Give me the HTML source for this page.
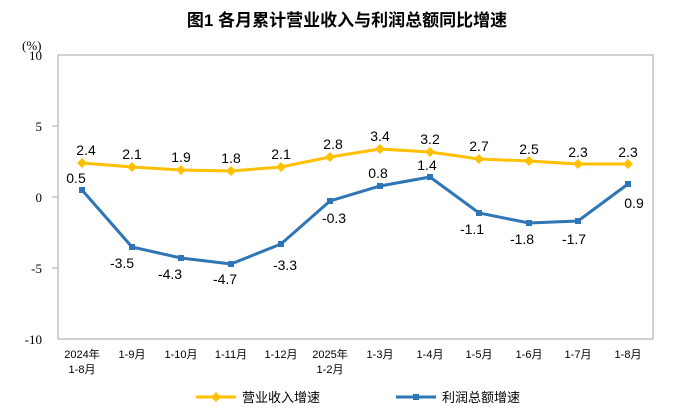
<!DOCTYPE html>
<html><head><meta charset="utf-8"><style>
body{margin:0;background:#fff;}
svg text{font-family:"Liberation Sans","Noto Sans CJK SC",sans-serif;}
svg text.s{font-family:"Liberation Serif","Noto Serif CJK SC",serif;}
</style></head><body>
<svg width="694" height="414" xmlns="http://www.w3.org/2000/svg">
<text x="347" y="26" text-anchor="middle" font-size="17" font-weight="bold" fill="#000">图1  各月累计营业收入与利润总额同比增速</text>
<text class="s" x="22" y="50" font-size="13" fill="#000">(%)</text>
<rect x="58" y="55" width="595" height="284" fill="none" stroke="#a6a6a6" stroke-width="1"/>
<g font-size="13" fill="#000" text-anchor="end">
<text class="s" x="42" y="60">10</text><text class="s" x="42" y="131">5</text><text class="s" x="42" y="202">0</text><text class="s" x="42" y="273">-5</text><text class="s" x="42" y="344">-10</text>
</g>
<g stroke="#a6a6a6"><line x1="52" y1="126" x2="58" y2="126"/><line x1="52" y1="197" x2="58" y2="197"/><line x1="52" y1="268" x2="58" y2="268"/></g>
<g font-size="11" fill="#000" text-anchor="middle">
<text x="82" y="358">2024年</text><text x="82" y="373">1-8月</text>
<text x="132" y="358">1-9月</text><text x="181" y="358">1-10月</text><text x="231" y="358">1-11月</text><text x="281" y="358">1-12月</text>
<text x="330" y="358">2025年</text><text x="330" y="373">1-2月</text>
<text x="380" y="358">1-3月</text><text x="430" y="358">1-4月</text><text x="479" y="358">1-5月</text><text x="529" y="358">1-6月</text><text x="578" y="358">1-7月</text><text x="628" y="358">1-8月</text>
</g>
<polyline fill="none" stroke="#ffc000" stroke-width="3" points="82,163 132,167 181,170 231,171 281,167 330,157 380,149 430,152 479,159 529,161 578,164 628,164"/>
<g fill="#ffc000">
<path d="M82,158l5,5l-5,5l-5,-5z"/><path d="M132,162l5,5l-5,5l-5,-5z"/><path d="M181,165l5,5l-5,5l-5,-5z"/><path d="M231,166l5,5l-5,5l-5,-5z"/><path d="M281,162l5,5l-5,5l-5,-5z"/><path d="M330,152l5,5l-5,5l-5,-5z"/><path d="M380,144l5,5l-5,5l-5,-5z"/><path d="M430,147l5,5l-5,5l-5,-5z"/><path d="M479,154l5,5l-5,5l-5,-5z"/><path d="M529,156l5,5l-5,5l-5,-5z"/><path d="M578,159l5,5l-5,5l-5,-5z"/><path d="M628,159l5,5l-5,5l-5,-5z"/>
</g>
<polyline fill="none" stroke="#2e75b6" stroke-width="3" points="82,190 132,247 181,258 231,264 281,244 330,201 380,186 430,177 479,213 529,223 578,221 628,184"/>
<g fill="#2e75b6">
<rect x="79" y="187" width="6" height="6"/><rect x="129" y="244" width="6" height="6"/><rect x="178" y="255" width="6" height="6"/><rect x="228" y="261" width="6" height="6"/><rect x="278" y="241" width="6" height="6"/><rect x="327" y="198" width="6" height="6"/><rect x="377" y="183" width="6" height="6"/><rect x="427" y="174" width="6" height="6"/><rect x="476" y="210" width="6" height="6"/><rect x="526" y="220" width="6" height="6"/><rect x="575" y="218" width="6" height="6"/><rect x="625" y="181" width="6" height="6"/>
</g>
<g font-size="14" fill="#000" text-anchor="middle">
<text x="86" y="155">2.4</text><text x="132" y="159">2.1</text><text x="181" y="162">1.9</text><text x="231" y="163">1.8</text><text x="281" y="159">2.1</text><text x="333" y="149">2.8</text><text x="380" y="141">3.4</text><text x="430" y="144">3.2</text><text x="479" y="151">2.7</text><text x="529" y="154">2.5</text><text x="578" y="157">2.3</text><text x="628" y="157">2.3</text>
<text x="76" y="183">0.5</text><text x="122" y="268">-3.5</text><text x="170" y="279">-4.3</text><text x="225" y="284">-4.7</text><text x="285" y="270">-3.3</text><text x="334" y="223">-0.3</text><text x="378" y="178">0.8</text><text x="427" y="170">1.4</text><text x="472" y="234">-1.1</text><text x="522" y="244">-1.8</text><text x="574" y="244">-1.7</text><text x="634" y="208">0.9</text>
</g>
<line x1="196" y1="397" x2="236" y2="397" stroke="#ffc000" stroke-width="3"/><path d="M216,392l5,5l-5,5l-5,-5z" fill="#ffc000"/>
<text x="242" y="402" font-size="13" fill="#000">营业收入增速</text>
<line x1="396" y1="397" x2="436" y2="397" stroke="#2e75b6" stroke-width="3"/><rect x="413" y="394" width="6" height="6" fill="#2e75b6"/>
<text x="442" y="402" font-size="13" fill="#000">利润总额增速</text>
</svg>
</body></html>
